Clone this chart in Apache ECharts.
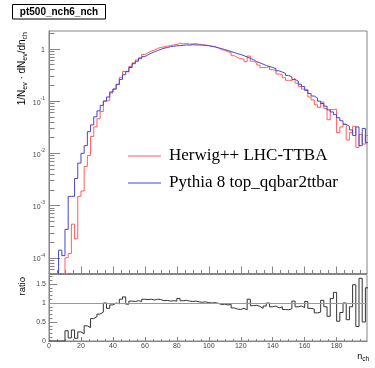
<!DOCTYPE html>
<html><head><meta charset="utf-8">
<script src="https://cdn.jsdelivr.net/npm/echarts@6/dist/echarts.min.js"></script>
<style>html,body{margin:0;padding:0;background:#fff}#c{width:375px;height:368px}</style>
</head><body><div id="c"></div>
<script>
const plotTitle = 'pt500_nch6_nch';
const seriesNames = ['Herwig++ LHC-TTBA', 'Pythia 8 top_qqbar2ttbar'];
const binStart = 0, binWidth = 2;
const herwig = [
  0,0,0,0,0,
  1.0e-4,1.2e-4,4.4e-4,2.3e-4,1.5e-3,
  1.9e-3,5.6e-3,9.1e-3,2.1e-2,3.2e-2,
  4.6e-2,6.3e-2,0.10,0.103,0.143,
  0.17,0.206,0.286,0.37,0.36,
  0.46,0.54,0.615,0.676,0.78,
  0.84,0.91,0.95,1.02,1.07,
  1.09,1.13,1.155,1.19,1.21,
  1.29,1.24,1.27,1.24,1.25,
  1.25,1.23,1.20,1.19,1.16,
  1.12,1.10,1.04,0.97,0.94,
  0.88,0.85,0.74,0.68,0.65,
  0.64,0.57,0.73,0.58,0.54,
  0.49,0.44,0.44,0.46,0.40,
  0.39,0.33,0.32,0.28,0.25,
  0.25,0.27,0.22,0.19,0.17,
  0.166,0.12,0.105,0.085,0.076,
  0.096,0.072,0.044,0.069,0.070,
  0.025,0.032,0.036,0.018,0.025,
  0.033,0.013,0.023,0.015,0.022
];
const pythia = [
  0,0,0,1.4e-4,1.1e-4,
  3.5e-4,1.5e-3,1.5e-3,3.3e-3,6.5e-3,
  1.0e-2,1.4e-2,2.6e-2,3.5e-2,5.0e-2,
  6.5e-2,8.3e-2,0.10,0.12,0.15,
  0.17,0.21,0.26,0.32,0.37,
  0.44,0.52,0.58,0.65,0.71,
  0.77,0.83,0.88,0.93,0.98,
  1.03,1.06,1.10,1.12,1.15,
  1.15,1.17,1.19,1.18,1.20,
  1.19,1.19,1.18,1.16,1.15,
  1.12,1.09,1.05,1.01,0.97,
  0.93,0.89,0.85,0.81,0.78,
  0.74,0.70,0.66,0.62,0.57,
  0.54,0.51,0.48,0.46,0.44,
  0.42,0.38,0.36,0.34,0.31,
  0.29,0.26,0.24,0.21,0.19,
  0.16,0.14,0.125,0.115,0.10,
  0.09,0.08,0.068,0.062,0.055,
  0.048,0.042,0.036,0.033,0.028,
  0.022,0.032,0.014,0.030,0.016
];
const ratio = [
  0,0,0,0,0,
  0.27,0.08,0.29,0.07,0.24,
  0.19,0.40,0.35,0.59,0.64,
  0.71,0.76,1.0,0.86,0.95,
  1.0,0.98,1.1,1.16,0.97,
  1.05,1.04,1.06,1.04,1.1,
  1.09,1.1,1.08,1.1,1.09,
  1.06,1.07,1.05,1.06,1.05,
  1.12,1.06,1.07,1.05,1.04,
  1.05,1.03,1.02,1.03,1.01,
  1.0,1.01,0.99,0.96,0.97,
  0.95,0.96,0.87,0.84,0.83,
  0.86,0.82,1.1,0.93,0.94,
  0.91,0.86,0.92,1.0,0.9,
  0.92,0.87,0.9,0.83,0.82,
  0.85,1.05,0.9,0.92,0.88,
  1.04,0.86,0.84,0.74,0.76,
  1.07,0.9,0.65,1.12,1.28,
  0.52,0.75,1.0,0.56,0.9,
  1.48,0.38,1.65,0.5,1.4
];
const xMajor = [0,20,40,60,80,100,120,140,160,180];
const yMainMajor = [1e-4,1e-3,1e-2,1e-1,1];
const yRatioMajor = [0,0.5,1,1.5];

const X_MIN = 0, X_MAX = 199, Y_MIN = 5e-5, Y_MAX = 2.2, R_MAX = 1.75;
const FONT = 'Liberation Sans, Arial, Helvetica, sans-serif';
const AX = '#858585', LAB = '#444';

function steps(vals, floor) {
  const pts = vals.map((v, i) => [binStart + i * binWidth, v > 0 ? v : floor]);
  const last = vals[vals.length - 1];
  pts.push([binStart + vals.length * binWidth, last > 0 ? last : floor]);
  return pts;
}
const xMinor = [];
for (let n = 5; n < X_MAX; n += 5) if (n % 20 !== 0) xMinor.push(n);
const yMainMinor = [];
for (let d = -5; d <= 0; d++) for (let m = 2; m <= 9; m++) {
  const v = m * Math.pow(10, d);
  if (v >= Y_MIN && v <= Y_MAX) yMainMinor.push(v);
}
const yRatioMinor = [];
for (let k = 1; k <= 17; k++) if (k % 5 !== 0) yRatioMinor.push(k / 10);

function xAx(grid, ticks, len, labels) {
  return {type: 'value', gridIndex: grid, min: X_MIN, max: X_MAX, position: 'bottom',
    axisLine: {show: true, onZero: false, lineStyle: {color: AX, width: 1}},
    axisTick: {show: true, inside: true, length: len, customValues: ticks, lineStyle: {color: AX}},
    axisLabel: labels ? {show: true, customValues: labels, fontSize: 7, color: LAB, fontFamily: FONT, margin: 2} : {show: false},
    splitLine: {show: false}};
}
function yAx(grid, type, min, max, ticks, len, labelCfg) {
  const a = {type: type, gridIndex: grid, min: min, max: max, position: 'left',
    axisLine: {show: true, onZero: false, lineStyle: {color: AX, width: 1}},
    axisTick: {show: true, inside: true, length: len, customValues: ticks, lineStyle: {color: AX}},
    axisLabel: labelCfg || {show: false},
    splitLine: {show: false}};
  if (type === 'log') a.logBase = 10;
  return a;
}

const chart = echarts.init(document.getElementById('c'), null, {renderer: 'canvas', width: 375, height: 368});
chart.setOption({
  animation: false,
  backgroundColor: '#fff',
  grid: [
    {left: 49, right: 8, top: 31, height: 242.5, show: true, borderColor: AX, borderWidth: 1, outerBoundsMode: 'none'},
    {left: 49, right: 8, top: 274.5, height: 66.5, show: true, borderColor: AX, borderWidth: 1, outerBoundsMode: 'none'}
  ],
  xAxis: [
    xAx(0, xMajor, 7, null),
    xAx(0, xMinor, 3.5, null),
    xAx(1, xMajor, 4, xMajor),
    xAx(1, xMinor, 2, null)
  ],
  yAxis: [
    yAx(0, 'log', Y_MIN, Y_MAX, yMainMajor, 11, {
      show: true, customValues: yMainMajor, margin: 4,
      formatter: v => { const e = Math.round(Math.log10(v)); return e === 0 ? '{a|1}' : '{a|10}{b|' + e + '}'; },
      rich: {
        a: {fontSize: 7, fontFamily: FONT, color: LAB, lineHeight: 10, verticalAlign: 'bottom'},
        b: {fontSize: 5, fontFamily: FONT, color: LAB, lineHeight: 5, verticalAlign: 'top'}
      }
    }),
    yAx(0, 'log', Y_MIN, Y_MAX, yMainMinor, 5.5, null),
    yAx(1, 'value', 0, R_MAX, yRatioMajor, 8, {show: true, customValues: yRatioMajor, fontSize: 7, fontFamily: FONT, color: LAB, margin: 3}),
    yAx(1, 'value', 0, R_MAX, yRatioMinor, 3.5, null)
  ],
  legend: {
    data: seriesNames, orient: 'vertical', left: 128, top: 146, itemWidth: 33, itemHeight: 1,
    icon: 'rect', itemGap: 7, padding: 0, selectedMode: false,
    textStyle: {fontFamily: 'Liberation Serif, Times New Roman, serif', fontSize: 17, color: '#000', lineHeight: 20, padding: [0, 0, 0, 3]}
  },
  series: [
    {type: 'line', name: seriesNames[0], xAxisIndex: 0, yAxisIndex: 0, data: steps(herwig, 1e-6), step: 'end',
      symbol: 'none', showSymbol: false, clip: true, lineStyle: {color: '#ff5e5e', width: 1}, itemStyle: {color: '#ff5e5e'}},
    {type: 'line', name: seriesNames[1], xAxisIndex: 0, yAxisIndex: 0, data: steps(pythia, 1e-6), step: 'end',
      symbol: 'none', showSymbol: false, clip: true, lineStyle: {color: '#4646cc', width: 1}, itemStyle: {color: '#4646cc'}},
    {type: 'line', name: 'ratio', xAxisIndex: 2, yAxisIndex: 2, data: steps(ratio, 0), step: 'end',
      symbol: 'none', showSymbol: false, clip: true, lineStyle: {color: '#333', width: 1}, itemStyle: {color: '#333'}, z: 3,
      markLine: {silent: true, symbol: ['none', 'none'], label: {show: false}, lineStyle: {color: '#999', width: 1, type: 'solid'}, data: [{yAxis: 1}]}}
  ],
  graphic: [
    {type: 'rect', shape: {x: 12.5, y: 4.5, width: 93, height: 14.5}, style: {fill: '#fff', stroke: '#000', lineWidth: 1}},
    {type: 'text', x: 59, y: 12, style: {text: plotTitle, align: 'center', verticalAlign: 'middle', font: 'bold 10px Liberation Sans', fill: '#000'}},
    {type: 'text', x: 22, y: 32, rotation: Math.PI / 2, style: {
      text: '{m|1/N}{s|ev}{m| · dN}{s|ev}{m|/dn}{s|ch}', align: 'right', verticalAlign: 'middle',
      rich: {
        m: {fontSize: 10, fontFamily: FONT, fill: '#000', color: '#000', lineHeight: 14},
        s: {fontSize: 7, fontFamily: FONT, fill: '#000', color: '#000', lineHeight: 6, verticalAlign: 'bottom'}
      }}},
    {type: 'text', x: 22, y: 277, rotation: Math.PI / 2, style: {text: 'ratio', align: 'right', verticalAlign: 'middle', font: '9.5px Liberation Sans', fill: '#000'}},
    {type: 'text', x: 369, y: 357, style: {
      text: '{m|n}{s|ch}', align: 'right', verticalAlign: 'middle',
      rich: {
        m: {fontSize: 9, fontFamily: FONT, fill: '#000', color: '#000', lineHeight: 12},
        s: {fontSize: 6.5, fontFamily: FONT, fill: '#000', color: '#000', lineHeight: 6, verticalAlign: 'bottom'}
      }}}
  ]
});
</script></body></html>
